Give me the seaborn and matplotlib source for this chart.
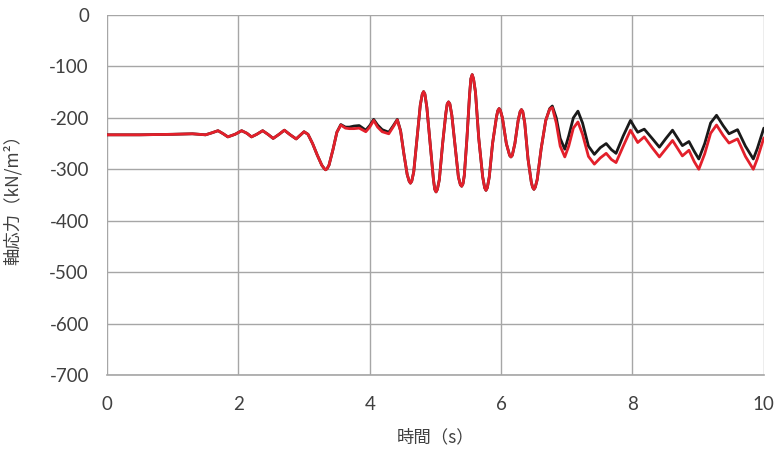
import matplotlib
matplotlib.use("Agg")
import matplotlib.pyplot as plt
import pandas as pd
import seaborn as sns

# values
time_s = [
    0.00, 0.50, 1.00, 1.30, 1.50, 1.60, 1.69, 1.77, 1.84, 1.95,
    2.05, 2.13, 2.20, 2.28, 2.37, 2.45, 2.53, 2.62, 2.70, 2.79,
    2.88, 2.95, 3.00, 3.06, 3.13, 3.20, 3.27, 3.31, 3.33, 3.35,
    3.38, 3.44, 3.50, 3.56, 3.63, 3.69, 3.76, 3.84, 3.94, 4.00,
    4.06, 4.12, 4.19, 4.29, 4.36, 4.42, 4.47, 4.52, 4.57, 4.60,
    4.62, 4.64, 4.67, 4.72, 4.77, 4.80, 4.82, 4.84, 4.87, 4.92,
    4.97, 4.99, 5.01, 5.03, 5.06, 5.11, 5.16, 5.18, 5.20, 5.22,
    5.25, 5.30, 5.35, 5.38, 5.40, 5.42, 5.44, 5.48, 5.52, 5.54,
    5.56, 5.58, 5.61, 5.66, 5.72, 5.75, 5.77, 5.79, 5.82, 5.87,
    5.93, 5.95, 5.97, 5.99, 6.02, 6.08, 6.13, 6.15, 6.17, 6.21,
    6.26, 6.29, 6.31, 6.33, 6.36, 6.41, 6.46, 6.48, 6.50, 6.52,
    6.55, 6.61, 6.68, 6.74, 6.78, 6.84, 6.90, 6.97, 7.03, 7.10,
    7.17, 7.24, 7.33, 7.42, 7.51, 7.60, 7.68, 7.75, 7.86, 7.97,
    8.03, 8.08, 8.18, 8.30, 8.41, 8.51, 8.61, 8.69, 8.76, 8.86,
    8.94, 9.01, 9.10, 9.19, 9.28, 9.38, 9.47, 9.60, 9.72, 9.84,
    9.90, 10.00,
]

stress_black = [
    -233, -233, -232, -231, -233, -229, -225, -231, -237, -232,
    -225, -230, -237, -232, -225, -232, -240, -232, -224, -233,
    -241, -233, -227, -232, -250, -272, -292, -299, -301, -299,
    -292, -262, -228, -213, -218, -218, -216, -215, -224, -215,
    -203, -214, -223, -228, -215, -203, -225, -270, -310, -323,
    -327, -323, -305, -240, -175, -154, -149, -154, -180, -250,
    -320, -339, -344, -339, -320, -250, -190, -173, -169, -173,
    -195, -255, -315, -330, -333, -328, -312, -240, -155, -124,
    -116, -124, -150, -240, -315, -336, -341, -336, -315, -250,
    -198, -186, -182, -186, -200, -250, -273, -276, -273, -250,
    -205, -188, -184, -188, -210, -280, -325, -335, -339, -335,
    -320, -260, -205, -182, -177, -200, -240, -261, -235, -200,
    -187, -210, -255, -271, -258, -250, -262, -269, -235, -205,
    -218, -228, -222, -240, -257, -240, -224, -240, -254, -246,
    -265, -280, -250, -210, -195, -215, -231, -223, -255, -280,
    -260, -220,
]

stress_red = [
    -233, -233, -232, -231, -233, -229, -225, -231, -237, -232,
    -225, -230, -237, -232, -225, -232, -240, -232, -224, -233,
    -241, -233, -227, -232, -250, -272, -292, -299, -301, -299,
    -292, -262, -228, -214, -220, -221, -221, -220, -227, -218,
    -205, -218, -227, -231, -217, -204, -226, -270, -310, -323,
    -327, -323, -305, -240, -175, -154, -149, -154, -180, -250,
    -320, -339, -344, -339, -320, -250, -190, -173, -169, -173,
    -195, -255, -315, -330, -333, -328, -312, -240, -155, -124,
    -116, -124, -150, -240, -315, -336, -341, -336, -315, -250,
    -198, -186, -182, -186, -200, -250, -273, -276, -273, -250,
    -205, -188, -184, -188, -210, -280, -325, -335, -339, -335,
    -320, -260, -205, -183, -180, -210, -255, -276, -255, -220,
    -208, -232, -275, -290, -278, -269, -281, -287, -255, -224,
    -237, -248, -237, -258, -276, -260, -244, -260, -274, -263,
    -285, -300, -270, -230, -214, -234, -249, -241, -275, -300,
    -280, -239,
]

x_ticks = [0, 2, 4, 6, 8, 10]
y_ticks = [0, -100, -200, -300, -400, -500, -600, -700]

df = pd.DataFrame({"time": time_s, "black": stress_black, "red": stress_red})

sns.set_style("white")
plt.rcParams["font.family"] = ["Lato", "Noto Sans CJK JP", "DejaVu Sans"]
plt.rcParams["axes.unicode_minus"] = False

fig = plt.figure(figsize=(7.81, 4.5), dpi=100)
ax = fig.add_axes([0.137, 0.1667, 0.841, 0.8])

line_kw = dict(linewidth=2.0, solid_joinstyle="round", solid_capstyle="round")
sns.lineplot(data=df, x="time", y="black", color="#1a1a1a", ax=ax, **line_kw)
sns.lineplot(data=df, x="time", y="red", color="#e3202b", ax=ax, **line_kw)

ax.set_xlim(0, 10)
ax.set_ylim(-700, 0)
ax.set_xticks(x_ticks)
ax.set_yticks(y_ticks)
ax.set_xticklabels([str(v) for v in x_ticks])
ax.set_yticklabels([str(v) for v in y_ticks])
ax.grid(True, color="#a6a6a6", linewidth=1.0)
ax.set_axisbelow(True)
for side in ["top", "right", "left"]:
    ax.spines[side].set_visible(False)
ax.spines["bottom"].set_color("#a6a6a6")
ax.spines["bottom"].set_linewidth(1.2)

ax.tick_params(axis="both", direction="out", length=5, width=1.0, color="#a6a6a6",
               labelsize=13.5, labelcolor="#404040")
ax.tick_params(axis="x", pad=10)
ax.tick_params(axis="y", pad=8)

cjk = ["Noto Sans CJK JP", "DejaVu Sans"]
ax.set_xlabel("時間（s）", fontsize=12.5, color="#404040", family=cjk)
ax.set_ylabel("軸応力（kN/m²）", fontsize=12.5, color="#404040", family=cjk)
ax.xaxis.set_label_coords(0.5, -0.148)
ax.yaxis.set_label_coords(-0.129, 0.5)

fig.savefig("out.png", dpi=100)
